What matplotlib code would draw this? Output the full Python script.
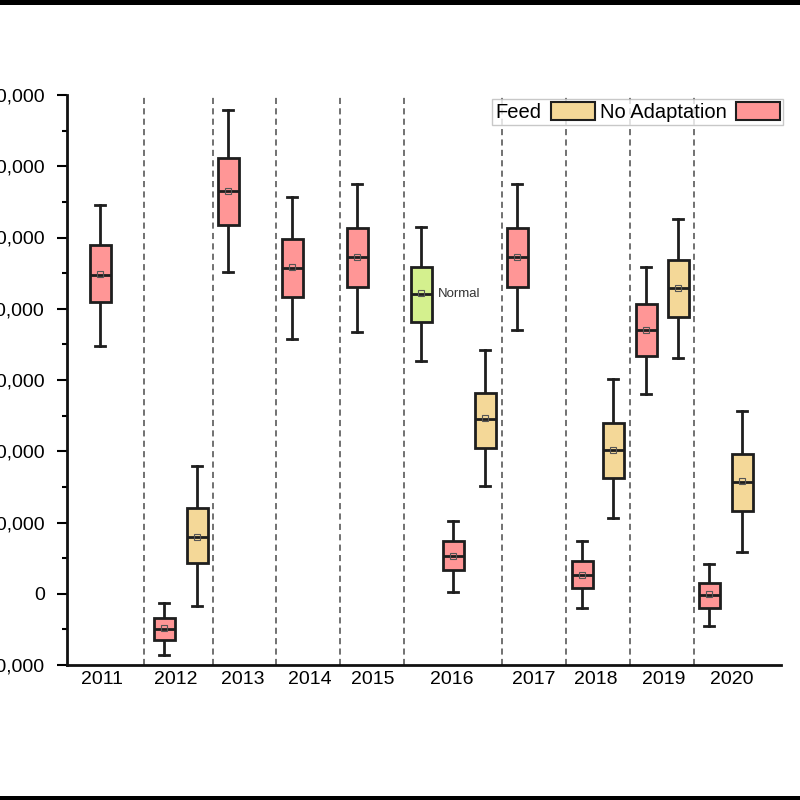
import matplotlib
matplotlib.use('Agg')
import matplotlib.pyplot as plt
from matplotlib.patches import Patch, Rectangle
from matplotlib.ticker import FuncFormatter, MultipleLocator

plt.rcParams['font.family'] = ['Liberation Sans', 'DejaVu Sans']

# Box statistics (one entry per box)
box_year = ['2011', '2012', '2012', '2013', '2014', '2015', '2016', '2016', '2016',
            '2017', '2018', '2018', '2019', '2019', '2020', '2020']
box_group = ['No Adaptation', 'No Adaptation', 'Feed', 'No Adaptation', 'No Adaptation',
             'No Adaptation', 'Normal', 'No Adaptation', 'Feed', 'No Adaptation',
             'No Adaptation', 'Feed', 'No Adaptation', 'Feed', 'No Adaptation', 'Feed']
whislo = [34800, -8600, -1700, 45100, 35700, 36800, 32600, 300, 15100,
          37000, -2000, 10600, 28100, 33100, -4500, 5900]
q1 = [40900, -6500, 4300, 51800, 41600, 43000, 38200, 3300, 20400,
      43100, 800, 16200, 33400, 38900, -2000, 11600]
med = [44800, -4900, 8000, 56500, 45700, 47200, 42100, 5300, 24500,
       47300, 2600, 20200, 37000, 42900, -200, 15700]
mean = [44900, -4800, 8000, 56500, 45800, 47200, 42200, 5300, 24600,
        47300, 2700, 20200, 37000, 42900, -100, 15800]
q3 = [48900, -3400, 12100, 61200, 49800, 51400, 45900, 7400, 28200,
      51400, 4600, 24000, 40700, 46800, 1500, 19600]
whishi = [54600, -1300, 18000, 67900, 55700, 57500, 51500, 10200, 34200,
          57500, 7400, 30200, 45900, 52600, 4200, 25700]

years = ['2011', '2012', '2013', '2014', '2015', '2016', '2017', '2018', '2019', '2020']
legend_groups = ['Feed', 'No Adaptation']

# layout (x in pixel-like units along the axis)
box_x = [100, 164, 197, 228, 292, 357, 421, 453, 485, 517, 582, 613, 646, 678, 709, 742]
year_x = [102, 176, 243, 310, 373, 452, 534, 596, 664, 732]
sep_x = [144, 213, 276, 339.5, 404, 501.5, 565.7, 630, 694.3]

colors = {'No Adaptation': '#FF9696', 'Feed': '#F4D898', 'Normal': '#D4F08E'}
edge = '#1e1e1e'

fig = plt.figure(figsize=(8, 8), dpi=100)
ax = fig.add_axes([67 / 800, 1 - 665 / 800, (781 - 67) / 800, (665 - 95) / 800])

for x in sep_x:
    ax.axvline(x, color='#4a4a4a', lw=1.1, linestyle=(0, (4, 2.8)), zorder=1)

stats = []
for i in range(len(med)):
    stats.append(dict(whislo=whislo[i], q1=q1[i], med=med[i], q3=q3[i],
                      whishi=whishi[i], mean=mean[i], fliers=[]))

bp = ax.bxp(stats, positions=box_x, widths=21, capwidths=10, patch_artist=True,
            showmeans=True, manage_ticks=False,
            boxprops=dict(edgecolor=edge, linewidth=2),
            medianprops=dict(color=edge, linewidth=2),
            whiskerprops=dict(color=edge, linewidth=2),
            capprops=dict(color=edge, linewidth=2),
            meanprops=dict(marker='s', markersize=4.5, markerfacecolor='none',
                           markeredgecolor='#555555', markeredgewidth=0.8))
for patch, g in zip(bp['boxes'], box_group):
    patch.set_facecolor(colors[g])
    patch.set_zorder(3)
for ln in bp['medians']:
    ln.set_zorder(4)
for ln in bp['means']:
    ln.set_zorder(5)

i_norm = box_group.index('Normal')
ax.annotate('Normal', xy=(box_x[i_norm], med[i_norm]), xytext=(12, 0),
            textcoords='offset points', va='center', ha='left', fontsize=9.5,
            color='#333333')

ax.set_xlim(67, 781)
ax.set_ylim(-10000, 70000)
ax.set_xticks(year_x)
ax.set_xticklabels(years)
ax.tick_params(axis='x', length=0, pad=4, labelsize=14)
ax.yaxis.set_major_locator(MultipleLocator(10000))
ax.yaxis.set_minor_locator(MultipleLocator(5000))
ax.yaxis.set_major_formatter(FuncFormatter(lambda v, p: '{:,.0f}'.format(v)))
ax.tick_params(axis='y', which='major', length=7.5, width=1.5, pad=8.6, labelsize=14)
ax.tick_params(axis='y', which='minor', length=3.6, width=1.5)

for s in ['top', 'right']:
    ax.spines[s].set_visible(False)
for s in ['left', 'bottom']:
    ax.spines[s].set_linewidth(2)
    ax.spines[s].set_color('#111111')

handles = [Patch(facecolor=colors[g], edgecolor=edge, linewidth=1.5) for g in legend_groups]
leg = ax.legend(handles, legend_groups, ncol=2, markerfirst=False, loc='upper right',
                bbox_to_anchor=(783 / 800, 1 - 99 / 800), bbox_transform=fig.transFigure,
                fontsize=14.5, handlelength=2.2, handleheight=1.0, handletextpad=0.45,
                columnspacing=0.25, borderpad=0.15, borderaxespad=0, frameon=True,
                fancybox=False)
leg.get_frame().set_edgecolor('#bbbbbb')
leg.get_frame().set_linewidth(1)

# black border bands of the original screenshot
fig.patches.append(Rectangle((0, 1 - 5 / 800), 1, 5 / 800, transform=fig.transFigure,
                             facecolor='black', edgecolor='none'))
fig.patches.append(Rectangle((0, 0), 1, 4 / 800, transform=fig.transFigure,
                             facecolor='black', edgecolor='none'))

fig.savefig('out.png', dpi=100)
